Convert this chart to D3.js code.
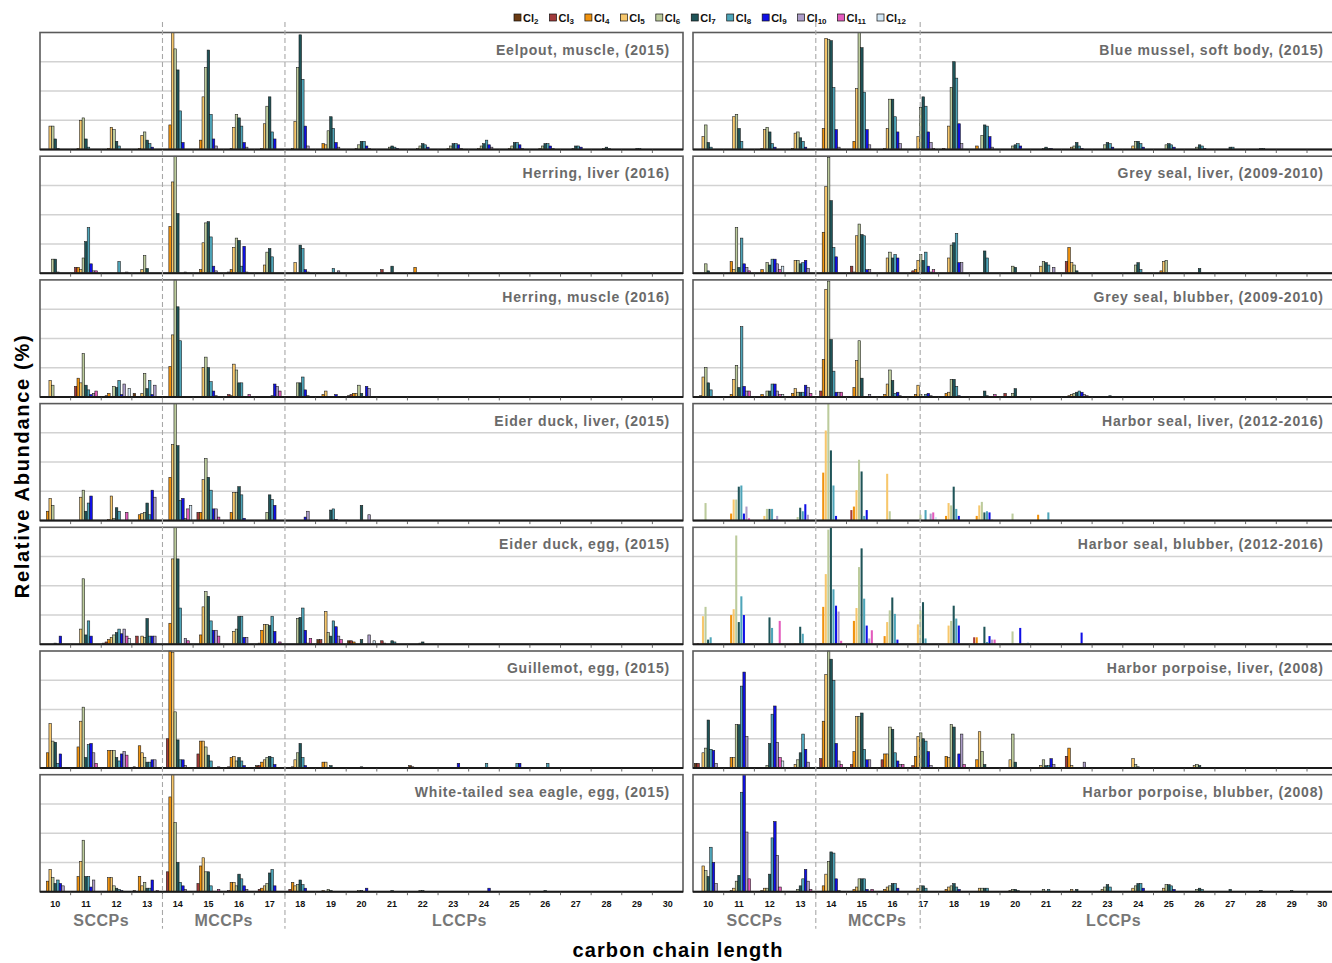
<!DOCTYPE html>
<html>
<head>
<meta charset="utf-8">
<title>CP homologue profiles</title>
<script src="https://d3js.org/d3.v7.min.js"></script>
<style>
  body { margin: 0; background: #fff; }
  text { font-family: "Liberation Sans", Arial, sans-serif; font-weight: bold; }
</style>
</head>
<body>
<svg id="chart" width="1332" height="963"></svg>
<script>
// x categories: carbon chain length, series: number of chlorines
var carbons = [10, 11, 12, 13, 14, 15, 16, 17, 18, 19, 20, 21, 22, 23, 24, 25, 26, 27, 28, 29, 30];
var clNumbers = ["2", "3", "4", "5", "6", "7", "8", "9", "10", "11", "12"];
var clColors = ["#6b3b12", "#a23b3b", "#f0920e", "#f7c76c", "#bccb9c", "#1f5458", "#4ea5b9", "#1010e6", "#ac9dc8", "#e35bbd", "#d3e7f5"];
var groupLabels = ["SCCPs", "MCCPs", "LCCPs"];

var panelTitles = [
  "Eelpout, muscle, (2015)", "Herring, liver (2016)", "Herring, muscle (2016)",
  "Eider duck, liver, (2015)", "Eider duck, egg, (2015)", "Guillemot, egg, (2015)",
  "White-tailed sea eagle, egg, (2015)",
  "Blue mussel, soft body, (2015)", "Grey seal, liver, (2009-2010)", "Grey seal, blubber, (2009-2010)",
  "Harbor seal, liver, (2012-2016)", "Harbor seal, blubber, (2012-2016)",
  "Harbor porpoise, liver, (2008)", "Harbor porpoise, blubber, (2008)"
];

// relative abundance, one row per carbon number (C10, C11, ...), columns Cl2..Cl12
// rows left out at the end have no visible bars
var eelpoutMuscle = [
  [0,0,0,20,20,9,1,0,0,0,0], [0,0,1,25,27,9,2,0,0,0,0], [0,0,1,19,17,7,3,0,0,0,0], [0,0,1,12,15,8,5,2,0,0,0],
  [0,0,21,100,86,68,33,6,0,0,0], [0,0,8,45,70,85,30,9,3,0,0], [0,0,1,19,30,27,20,6,2,0,0], [0,0,1,22,37,45,15,9,0,0,0],
  [0,0,1,24,70,98,60,20,3,0,0], [0,0,5,4,16,28,18,6,2,0,0], [0,0,0,1,4,7,7,3,1,0,0], [0,0,0,0,2,3,2,1,0,0,0],
  [0,0,0,1,3,5,4,2,0,0,0], [0,0,0,1,3,5,5,4,1,0,0], [0,0,0,1,3,5,8,4,2,0,0], [0,0,0,1,3,6,6,4,1,0,0],
  [0,0,0,1,3,5,5,3,1,0,0], [0,0,0,0,1,3,3,2,0,0,0], [0,0,0,0,1,2,1,0,0,0,0], [0,0,0,0,0,1,1,0,0,0,0]
];
var herringLiver = [
  [0,0,0,0,12,12,1,0,0,0,0], [0,5,5,3,13,27,39,8,2,2,0], [0,0,0,0,0,0,10,0,0,1,0], [0,0,0,3,15,4,0,0,0,0,0],
  [0,0,40,78,100,51,0,0,1,0,0], [0,0,3,26,43,44,31,6,2,0,0], [0,1,3,22,30,28,6,23,1,0,0], [0,0,0,7,18,21,14,0,0,0,0],
  [0,0,0,9,0,24,21,3,1,0,0], [0,0,0,0,0,0,4,0,2,0,0], [0,0,0,0,0,0,0,0,0,0,0], [0,3,0,0,0,6,0,0,0,0,0],
  [0,0,5,0,0,0,0,0,0,0,0]
];
var herringMuscle = [
  [0,0,0,14,10,0,0,0,0,0,0], [0,9,16,12,37,10,6,2,3,5,0], [0,1,3,0,9,8,14,2,11,0,7], [3,0,0,3,20,7,14,2,10,0,0],
  [0,0,26,53,100,77,48,0,0,0,0], [0,0,0,25,34,25,13,5,1,0,0], [0,2,1,28,23,12,12,0,0,2,0], [0,0,0,0,0,0,1,11,9,5,0],
  [0,0,0,0,12,12,17,6,1,0,0], [0,0,2,5,0,0,0,2,0,0,0], [1,2,3,3,10,3,0,9,7,0,0]
];
var eiderLiver = [
  [0,0,8,19,13,0,0,0,0,0,0], [0,0,0,20,26,8,15,21,0,0,0], [0,0,1,21,2,11,8,0,0,7,0], [0,0,5,6,7,15,5,26,20,0,0],
  [0,0,37,65,100,64,17,19,2,10,13], [0,7,7,35,53,37,26,10,10,3,0], [0,0,7,24,24,29,22,2,0,0,0], [0,0,0,0,7,22,18,13,0,0,0],
  [0,0,0,0,0,0,0,3,8,0,0], [0,0,0,0,0,9,10,1,0,0,0], [0,0,0,0,0,13,0,0,5,0,0]
];
var eiderEgg = [
  [0,0,0,0,0,1,0,7,0,0,0], [0,0,0,13,56,8,20,7,0,0,0], [1,2,4,6,8,10,13,9,13,7,5], [0,7,0,7,6,22,7,7,7,0,0],
  [0,0,18,73,100,73,31,0,5,3,0], [0,0,8,32,45,41,20,12,12,7,0], [0,0,0,11,13,24,24,6,6,0,0], [0,1,12,17,17,16,24,11,0,2,0],
  [0,0,0,0,22,23,31,12,1,5,0], [4,4,0,28,10,7,20,15,7,4,0], [3,3,2,0,0,4,0,0,8,0,3], [0,3,1,0,0,3,2,0,0,0,0],
  [0,0,0,0,1,2,0,0,0,0,0]
];
var guillemotEgg = [
  [0,0,13,38,23,22,4,12,0,0,0], [0,0,18,40,52,9,20,21,13,4,0], [0,0,15,15,15,9,6,12,14,11,0], [1,0,19,13,9,5,5,7,7,0,0],
  [0,25,100,99,48,24,7,7,2,0,0], [0,12,23,23,18,11,6,0,0,1,0], [0,1,9,10,6,9,6,2,0,0,0], [2,2,5,7,9,10,9,3,0,0,0],
  [0,0,1,7,13,21,9,2,0,0,0], [0,0,5,5,0,2,0,0,0,0,0], [0,0,0,0,0,1,0,0,0,0,0], [0,0,0,0,0,0,0,0,0,0,0],
  [2,1,0,0,0,0,0,0,0,0,0], [0,0,0,0,0,0,0,4,0,0,0], [0,0,0,0,0,0,4,0,0,0,0], [0,0,0,0,0,0,4,4,0,0,0],
  [0,0,0,0,0,0,4,0,0,0,0]
];
var seaEagleEgg = [
  [0,0,9,19,12,7,10,7,5,0,0], [0,0,13,26,44,13,13,4,10,0,0], [0,0,12,12,5,3,2,1,0,0,0], [1,0,13,5,8,3,3,10,0,1,0],
  [0,17,81,100,59,25,8,5,2,0,0], [0,7,22,29,17,17,5,0,0,2,0], [0,1,8,8,5,15,11,5,2,0,0], [0,2,3,5,7,16,19,5,0,0,0],
  [0,2,8,5,6,10,6,3,0,0,0], [0,0,1,0,2,1,0,0,0,0,0], [0,0,0,0,1,1,0,3,0,0,0], [0,0,0,0,0,1,0,0,0,0,0],
  [0,0,0,0,1,1,0,0,0,0,0], [0,0,0,0,0,0,0,0,0,0,0], [0,0,0,0,0,0,0,3,0,0,0], [0,0,0,0,0,0,0,0,0,0,0],
  [0,0,0,0,0,1,0,0,0,0,0]
];
var blueMussel = [
  [0,0,0,11,21,6,2,0,0,0,0], [0,0,0,28,30,18,7,0,0,0,0], [0,0,1,17,19,15,5,2,0,0,0], [0,0,1,14,15,10,7,2,0,0,0],
  [0,0,18,95,94,93,53,17,2,0,0], [0,0,7,52,100,87,49,17,4,0,0], [0,0,1,18,43,43,28,15,5,0,0], [0,0,0,11,36,45,37,15,6,1,0],
  [0,1,0,20,53,75,61,22,5,0,0], [0,0,3,0,12,21,20,11,2,0,0], [0,0,0,0,3,4,5,3,0,0,0], [0,0,0,0,1,2,1,1,0,0,0],
  [0,0,0,2,3,6,3,1,0,0,0], [0,0,0,0,4,6,5,2,0,0,0], [0,0,0,3,7,7,5,2,0,0,0], [0,0,0,0,4,5,4,2,0,0,0],
  [0,0,0,0,2,4,3,1,0,0,0], [0,0,0,0,0,2,2,0,0,0,0], [0,0,0,0,0,1,1,0,0,0,0]
];
var greySealLiver = [
  [0,0,0,0,8,2,0,0,0,0,0], [0,0,10,3,39,5,30,8,5,2,0], [0,0,3,0,9,7,12,12,8,3,6], [0,0,0,11,11,8,9,11,4,0,0],
  [0,0,35,74,99,62,22,14,0,0,0], [0,6,1,32,42,33,32,3,3,0,0], [0,0,0,13,18,13,16,13,0,0,0], [0,2,3,11,16,11,18,6,1,3,0],
  [0,0,0,13,24,26,34,9,9,0,0], [0,0,0,0,0,19,13,0,0,0,0], [0,0,0,0,6,5,0,0,0,0,0], [0,0,0,6,10,9,7,0,5,0,0],
  [0,10,22,9,7,2,0,0,0,0,0], [0,0,0,0,0,0,0,0,0,0,0], [0,0,0,0,7,9,3,0,0,0,0], [0,0,2,10,11,0,0,0,0,0,0],
  [0,0,0,0,0,4,0,0,0,0,0]
];
var greySealBlubber = [
  [0,0,1,17,25,12,6,0,0,0,0], [0,0,2,15,27,8,60,9,5,5,0], [0,0,2,0,5,5,11,11,5,2,2], [0,0,3,7,4,4,4,10,8,3,0],
  [0,5,32,92,99,49,22,4,4,4,0], [0,0,8,31,48,16,0,0,2,0,0], [0,0,2,11,23,14,3,4,1,0,0], [0,0,2,10,2,0,2,3,1,0,0],
  [0,0,3,4,15,15,9,1,0,0,0], [0,0,0,0,0,5,1,0,0,2,0], [0,3,0,0,3,7,0,0,0,0,0], [0,0,0,0,0,0,0,0,0,0,0],
  [0,0,1,2,3,4,5,4,2,1,0], [0,0,0,0,0,0,1,0,0,0,0]
];
var harborSealLiver = [
  [0,0,0,0,15,0,0,0,0,0,0], [0,0,6,18,18,29,30,6,12,2,0], [0,0,0,4,10,10,10,1,4,0,0], [0,0,0,0,3,11,8,14,5,0,0],
  [0,0,41,77,100,60,30,4,0,0,0], [0,9,12,26,52,42,4,9,0,0,0], [0,0,0,40,8,0,0,0,0,0,0], [0,0,0,0,5,0,9,0,6,7,3],
  [0,0,4,15,13,29,10,4,0,0,0], [0,0,4,13,16,7,8,7,1,0,0], [0,0,0,0,6,0,0,0,0,0,0], [0,0,5,0,0,0,7,0,0,0,0]
];
var harborSealBlubber = [
  [0,1,0,24,32,4,6,0,0,0,0], [0,0,25,30,93,19,41,25,0,0,0], [0,0,0,0,0,23,14,0,0,20,0], [0,0,0,1,0,15,9,0,0,0,0],
  [0,1,32,60,98,100,47,33,28,3,0], [0,0,20,31,66,82,39,16,5,12,0], [0,0,7,19,29,40,26,4,0,0,0], [0,0,0,17,29,36,5,0,0,0,0],
  [0,0,0,16,20,33,22,16,0,0,0], [0,6,6,0,0,15,2,7,4,4,0], [0,0,0,0,11,0,0,14,0,0,2], [0,0,0,0,0,0,0,0,0,0,0],
  [0,0,0,0,0,0,0,10,0,0,0]
];
var harborPorpoiseLiver = [
  [4,4,0,13,17,41,16,15,4,0,0], [0,0,9,9,37,37,70,82,27,0,0], [0,0,0,0,2,21,46,53,22,9,6], [0,0,0,3,7,13,29,16,5,0,0],
  [0,8,40,80,100,93,75,21,6,3,0], [0,3,14,44,44,47,16,7,7,0,0], [0,7,12,12,35,33,13,6,3,3,0], [0,2,10,27,30,25,23,14,2,0,0],
  [0,0,10,9,37,35,0,12,29,3,0], [0,0,7,31,14,3,0,0,0,0,0], [0,0,0,7,29,5,0,0,0,0,0], [0,0,0,2,7,2,2,8,3,0,0],
  [0,10,17,2,0,0,0,0,5,0,0], [0,0,0,0,0,0,0,0,0,0,0], [0,0,0,8,3,1,0,0,0,0,0], [0,0,0,0,0,0,0,0,0,0,0],
  [0,0,0,2,3,2,0,0,0,0,0]
];
var harborPorpoiseBlubber = [
  [0,0,0,22,18,13,38,25,7,0,0], [0,0,1,3,9,14,85,100,51,11,0], [0,0,1,3,3,15,46,60,31,4,0], [0,0,0,0,2,5,11,19,9,2,0],
  [0,0,5,15,26,34,33,11,1,0,0], [0,0,2,4,11,11,11,2,0,2,0], [0,0,2,4,5,7,7,3,0,0,0], [0,0,0,3,5,5,3,0,0,0,0],
  [0,0,2,4,5,7,4,2,0,0,0], [0,0,0,3,3,3,3,0,0,0,0], [0,0,0,1,2,2,1,0,0,0,0], [0,0,0,0,2,0,2,0,0,0,0],
  [0,0,0,2,0,2,0,0,0,0,0], [0,0,0,2,4,6,4,0,0,0,0], [0,0,0,3,5,7,7,3,0,0,0], [0,0,0,3,6,6,5,2,0,0,0],
  [0,0,0,0,2,3,2,0,0,0,0], [0,0,0,0,0,2,0,0,0,0,0], [0,0,0,0,0,1,0,0,0,0,0], [0,0,0,0,0,1,0,0,0,0,0]
];

var panelData = [eelpoutMuscle, herringLiver, herringMuscle, eiderLiver, eiderEgg, guillemotEgg, seaEagleEgg,
  blueMussel, greySealLiver, greySealBlubber, harborSealLiver, harborSealBlubber, harborPorpoiseLiver, harborPorpoiseBlubber];
// the harbor seal panels were drawn without bar outlines
var noOutline = [10, 11];

var svg = d3.select("#chart");
var panelH = 117, rowStep = 123.7, firstTop = 32.5;

var columns = [
  { x: d3.scaleBand().domain(carbons).range([40, 683]), dividers: [[14, 0], [18, 0]] },
  { x: d3.scaleBand().domain(carbons).range([693, 1337.7]), dividers: [[14, 0], [17, 0.4]] }
];
columns.forEach(function(col) {
  col.inner = d3.scaleBand().domain(d3.range(clNumbers.length)).range([0, col.x.bandwidth()]).paddingOuter(0.5);
});

panelData.forEach(function(rows, p) {
  var col = columns[p < 7 ? 0 : 1];
  var x = col.x, inner = col.inner;
  var top = firstTop + (p % 7) * rowStep;
  var y = d3.scaleLinear().domain([0, 100]).range([top + panelH, top]);
  var x0 = x.range()[0], x1 = x.range()[1];
  var g = svg.append("g");

  // horizontal grid
  g.selectAll(".grid").data([25, 50, 75]).enter().append("line")
    .attr("x1", x0).attr("x2", x1)
    .attr("y1", function(d) { return y(d); }).attr("y2", function(d) { return y(d); })
    .attr("stroke", "#d2d2d2").attr("stroke-width", 1.5);

  var bars = [];
  rows.forEach(function(vals, ci) {
    vals.forEach(function(v, si) { if (v > 0) bars.push({ c: carbons[ci], s: si, v: v }); });
  });
  var outline = noOutline.indexOf(p) < 0;
  g.selectAll(".bar").data(bars).enter().append("rect")
    .attr("x", function(d) { return x(d.c) + inner(d.s); })
    .attr("width", outline ? inner.bandwidth() : inner.bandwidth() - 0.5)
    .attr("y", function(d) { return y(d.v); })
    .attr("height", function(d) { return y(0) - y(d.v); })
    .attr("fill", function(d) { return clColors[d.s]; })
    .attr("stroke", outline ? "#141414" : "none")
    .attr("stroke-width", 0.55);

  // frame and base line
  g.append("rect").attr("x", x0).attr("y", top).attr("width", x1 - x0).attr("height", panelH)
    .attr("fill", "none").attr("stroke", "#5a5a5a").attr("stroke-width", 1.6);
  g.append("line").attr("x1", x0).attr("x2", x1).attr("y1", y(0)).attr("y2", y(0))
    .attr("stroke", "#1a1a1a").attr("stroke-width", 2);
  g.selectAll(".tick").data(carbons.slice(1)).enter().append("line")
    .attr("x1", function(d) { return x(d); }).attr("x2", function(d) { return x(d); })
    .attr("y1", y(0)).attr("y2", y(0) + 3.5)
    .attr("stroke", "#444").attr("stroke-width", 0.8);

  g.append("text").attr("x", x1 - (p < 7 ? 13 : 14)).attr("y", top + 22)
    .attr("text-anchor", "end").attr("fill", "#6a6a6a")
    .style("font-size", "14px").style("letter-spacing", "0.8px")
    .text(panelTitles[p]);
});

// bottom axis labels and homologue group names
var bottom = firstTop + 6 * rowStep + panelH;
columns.forEach(function(col) {
  var x = col.x;
  var ax = svg.append("g").attr("transform", "translate(0," + (bottom + 5) + ")")
    .call(d3.axisBottom(x).tickSize(0).tickPadding(4));
  ax.select(".domain").remove();
  ax.selectAll("text").attr("fill", "#111")
    .style("font-family", "'Liberation Sans', Arial, sans-serif").style("font-weight", "bold").style("font-size", "9px");

  var groupX = [(x(10) + x(13) + x.bandwidth()) / 2, (x(14) + x(17) + x.bandwidth()) / 2, x(23) + x.bandwidth() * 0.7];
  svg.selectAll(null).data(groupLabels).enter().append("text")
    .attr("x", function(d, i) { return groupX[i]; }).attr("y", bottom + 34)
    .attr("text-anchor", "middle").attr("fill", "#777")
    .style("font-size", "16px").style("letter-spacing", "0.5px")
    .text(function(d) { return d; });

  svg.selectAll(null).data(col.dividers).enter().append("line")
    .attr("x1", function(d) { return x(d[0]) + d[1] * x.bandwidth(); })
    .attr("x2", function(d) { return x(d[0]) + d[1] * x.bandwidth(); })
    .attr("y1", 22).attr("y2", bottom + 37)
    .attr("stroke", "#a8a8a8").attr("stroke-width", 1.1).attr("stroke-dasharray", "5,3");
});

// axis titles
svg.append("text").attr("x", 678).attr("y", 957).attr("text-anchor", "middle")
  .attr("fill", "#000").style("font-size", "20px").style("letter-spacing", "1.1px")
  .text("carbon chain length");
svg.append("text").attr("transform", "translate(29,466) rotate(-90)").attr("text-anchor", "middle")
  .attr("fill", "#000").style("font-size", "20px").style("letter-spacing", "1.7px")
  .text("Relative Abundance (%)");

// legend
var legend = svg.append("g");
var lx = 514;
clNumbers.forEach(function(n, i) {
  var item = legend.append("g").attr("transform", "translate(" + lx + ",0)");
  item.append("rect").attr("x", 0).attr("y", 14).attr("width", 7).attr("height", 7)
    .attr("fill", clColors[i]).attr("stroke", "#111").attr("stroke-width", 0.7);
  var t = item.append("text").attr("x", 9).attr("y", 21.5).attr("fill", "#111").style("font-size", "11px");
  t.append("tspan").text("Cl");
  t.append("tspan").attr("dy", 2.5).style("font-size", "8px").text(n);
  lx += 9 + t.node().getComputedTextLength() + 11;
});
</script>
</body>
</html>
